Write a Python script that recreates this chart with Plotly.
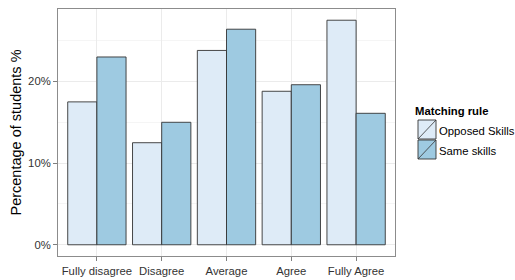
import plotly.graph_objects as go

categories = ["Fully disagree", "Disagree", "Average", "Agree", "Fully Agree"]
opposed_skills = [17.5, 12.5, 23.8, 18.8, 27.5]
same_skills = [23.0, 15.0, 26.4, 19.6, 16.1]
series_names = ["Opposed Skills", "Same skills"]
series_colors = ["#DEEBF7", "#9ECAE1"]
y_ticks = [0, 10, 20]

W, H = 515, 280
L, R, T, B = 58, 395, 9, 256  # panel pixel box

def px(x):
    return (x - L) / (R - L)

def py(y):
    return (B - y) / (B - T)

fig = go.Figure()
for name, vals, col in zip(series_names, [opposed_skills, same_skills], series_colors):
    fig.add_trace(go.Bar(
        x=categories, y=vals, name=name,
        marker=dict(color=col, line=dict(color="#333333", width=0.9)),
        showlegend=False,
    ))

ymax = max(max(opposed_skills), max(same_skills))
pad = 0.05 * ymax

fig.update_layout(
    width=W, height=H,
    margin=dict(l=L, r=W - R, t=T, b=H - B, autoexpand=False),
    paper_bgcolor="white", plot_bgcolor="white",
    barmode="group", bargap=0.1, bargroupgap=0,
    font=dict(family="Liberation Sans, Arial, sans-serif", size=11, color="#4D4D4D"),
    xaxis=dict(
        range=[-0.6, len(categories) - 0.4],
        automargin=False,
        showgrid=True, gridcolor="#EBEBEB", gridwidth=1,
        ticks="outside", ticklen=4, tickcolor="#7F7F7F",
        showline=True, linecolor="#8C8C8C", mirror=True, linewidth=1,
        tickfont=dict(size=11.3, color="#333333"),
        zeroline=False,
    ),
    yaxis=dict(
        range=[-pad, ymax + pad],
        automargin=False,
        tickvals=y_ticks, ticktext=[f"{v}%" for v in y_ticks],
        showgrid=True, gridcolor="#EBEBEB", gridwidth=1,
        minor=dict(dtick=5, showgrid=True, gridcolor="#F5F5F5", gridwidth=1, tick0=0),
        ticks="outside", ticklen=4, tickcolor="#7F7F7F",
        showline=True, linecolor="#8C8C8C", mirror=True, linewidth=1,
        tickfont=dict(size=11.3, color="#333333"),
        zeroline=False,
        title=dict(text="Percentage of students %", font=dict(size=14.5, color="black"), standoff=3),
    ),
)

# Legend drawn manually (ggplot style keys with diagonal slash)
shapes = []
annotations = []
annotations.append(dict(
    x=px(413), y=py(111), xref="paper", yref="paper", xanchor="left", yanchor="middle",
    text="<b>Matching rule</b>", showarrow=False, font=dict(size=11.3, color="black"),
))
key_x0, key_x1 = 418, 436
key_tops = [120, 140]
key_h = 19
for name, col, top in zip(series_names, series_colors, key_tops):
    shapes.append(dict(type="rect", xref="paper", yref="paper",
                       x0=px(key_x0), x1=px(key_x1), y0=py(top + key_h), y1=py(top),
                       fillcolor=col, line=dict(color="#333333", width=0.9)))
    shapes.append(dict(type="line", xref="paper", yref="paper",
                       x0=px(key_x0), x1=px(key_x1), y0=py(top + key_h), y1=py(top),
                       line=dict(color="#333333", width=0.8)))
    annotations.append(dict(
        x=px(key_x1 + 1), y=py(top + key_h / 2 + 1), xref="paper", yref="paper",
        xanchor="left", yanchor="middle", text=name, showarrow=False,
        font=dict(size=11.3, color="black"),
    ))
fig.update_layout(shapes=shapes, annotations=annotations)

fig.write_html(
    "out.html",
    config={"displayModeBar": False},
    post_script="document.body.style.margin='0';document.body.style.overflow='hidden';",
)
